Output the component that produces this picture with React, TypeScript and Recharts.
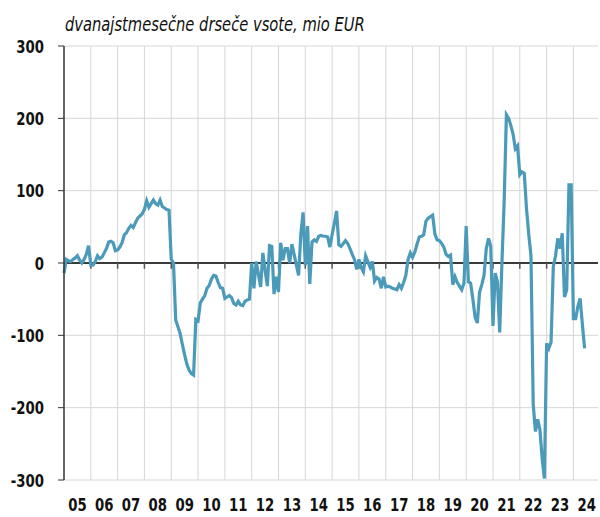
import React from "react";
import {
  LineChart,
  Line,
  XAxis,
  YAxis,
  CartesianGrid,
  ReferenceLine,
} from "recharts";

// monthly 12-month rolling sums, mio EUR (Jan 2005 .. Jun 2024)
const v2005 = [-14, 5, 3, 2, 5, 7, 10, 4, 0, 5, 12, 24];
const v2006 = [-3, -3, 2, 10, 6, 8, 14, 20, 29, 30, 28, 17];
const v2007 = [18, 22, 28, 39, 42, 48, 52, 49, 56, 62, 65, 68];
const v2008 = [74, 86, 77, 82, 87, 82, 80, 87, 78, 76, 74, 73];
const v2009 = [5, 0, -79, -88, -98, -113, -127, -140, -148, -153, -155, -78];
const v2010 = [-80, -55, -50, -45, -35, -31, -22, -17, -18, -27, -34, -35];
const v2011 = [-49, -47, -45, -48, -56, -58, -53, -58, -59, -53, -51, -50];
const v2012 = [0, -35, 2, -15, -33, 14, -10, -32, 24, 23, -43, -19];
const v2013 = [-40, 28, 4, 20, 20, 0, 26, 12, -3, -17, 40, 70];
const v2014 = [-3, 51, -29, 29, 32, 30, 37, 38, 37, 37, 36, 22];
const v2015 = [39, 55, 72, 25, 23, 27, 31, 27, 20, 12, 5, -9];
const v2016 = [5, -6, -12, 10, 2, -6, 2, -25, -20, -22, -35, -19];
const v2017 = [-33, -32, -33, -35, -36, -37, -30, -35, -27, -17, 5, 14];
const v2018 = [8, 15, 26, 36, 37, 39, 58, 62, 64, 66, 40, 32];
const v2019 = [31, 27, 22, 12, 9, 11, -30, -19, -27, -32, -37, -28];
const v2020 = [51, -26, -28, -50, -75, -83, -40, -30, -17, 20, 34, 23];
const v2021 = [-87, -14, -26, -96, 0, 85, 205, 200, 190, 178, 158, 162];
const v2022 = [122, 126, 124, 75, 40, 10, -195, -233, -216, -230, -270, -298];
const v2023 = [-111, -118, -109, -5, 10, 34, 20, 41, -47, -37, 108, 108];
const v2024 = [-77, -77, -60, -49, -85, -118];

const years = [
  "05", "06", "07", "08", "09", "10", "11", "12", "13", "14",
  "15", "16", "17", "18", "19", "20", "21", "22", "23", "24",
];
const yTicks = [-300, -200, -100, 0, 100, 200, 300];

const values = [
  ...v2005, ...v2006, ...v2007, ...v2008, ...v2009, ...v2010, ...v2011,
  ...v2012, ...v2013, ...v2014, ...v2015, ...v2016, ...v2017, ...v2018,
  ...v2019, ...v2020, ...v2021, ...v2022, ...v2023, ...v2024,
];
const data = values.map((v, i) => ({ t: i, v }));

const yearStarts = years.slice(1).map((_, i) => (i + 1) * 12);
const yearMids = years.map((_, i) => i * 12 + 6);

const FONT = "'DejaVu Sans Condensed', 'DejaVu Sans', sans-serif";

// narrow bold tick text, squeezed horizontally like the original condensed font
function XTick(props: any) {
  const { x, y, payload } = props;
  return (
    <text
      transform={`translate(${x},${y + 23}) scale(0.82,1)`}
      textAnchor="middle"
      fontFamily={FONT}
      fontSize={18}
      fontWeight="bold"
      fill="#111"
    >
      {years[Math.floor(payload.value / 12)]}
    </text>
  );
}

function YTick(props: any) {
  const { x, y, payload } = props;
  return (
    <text
      transform={`translate(${x},${y + 6.5}) scale(0.82,1)`}
      textAnchor="end"
      fontFamily={FONT}
      fontSize={18}
      fontWeight="bold"
      fill="#111"
    >
      {payload.value}
    </text>
  );
}

export default function App() {
  return (
    <div style={{ position: "absolute", left: 0, top: 0, width: 600, height: 517, background: "#fff" }}>
      <div
        style={{
          position: "absolute",
          left: 65,
          top: 13,
          fontFamily: FONT,
          fontStyle: "italic",
          fontSize: 19,
          color: "#111",
          whiteSpace: "nowrap",
          transform: "scaleX(0.86)",
          transformOrigin: "left top",
        }}
      >
        dvanajstmesečne drseče vsote, mio EUR
      </div>
      <LineChart width={600} height={517} data={data} margin={{ top: 46, right: 2, bottom: 0, left: 0 }}>
        <CartesianGrid vertical={false} stroke="#d6d6d6" strokeWidth={1} />
        {yearStarts.map((x) => (
          <ReferenceLine key={`g${x}`} x={x} stroke="#d6d6d6" strokeWidth={1} />
        ))}
        <ReferenceLine y={0} stroke="#000" strokeWidth={1.5} />
        {yearStarts.map((x) => (
          <ReferenceLine
            key={`k${x}`}
            segment={[{ x, y: 0 }, { x, y: -8 }]}
            stroke="#555"
            strokeWidth={1.5}
          />
        ))}
        <XAxis
          dataKey="t"
          type="number"
          domain={[0, 239]}
          ticks={yearMids}
          interval={0}
          axisLine={false}
          tickLine={false}
          height={37}
          tick={<XTick />}
        />
        <YAxis
          domain={[-300, 300]}
          ticks={yTicks}
          interval={0}
          width={64}
          axisLine={{ stroke: "#333", strokeWidth: 1.5 }}
          tickLine={{ stroke: "#333", strokeWidth: 1 }}
          tickSize={6}
          tickMargin={14}
          tick={<YTick />}
        />
        <Line
          type="linear"
          dataKey="v"
          stroke="#4b9aba"
          strokeWidth={3.2}
          dot={false}
          isAnimationActive={false}
        />
      </LineChart>
    </div>
  );
}
